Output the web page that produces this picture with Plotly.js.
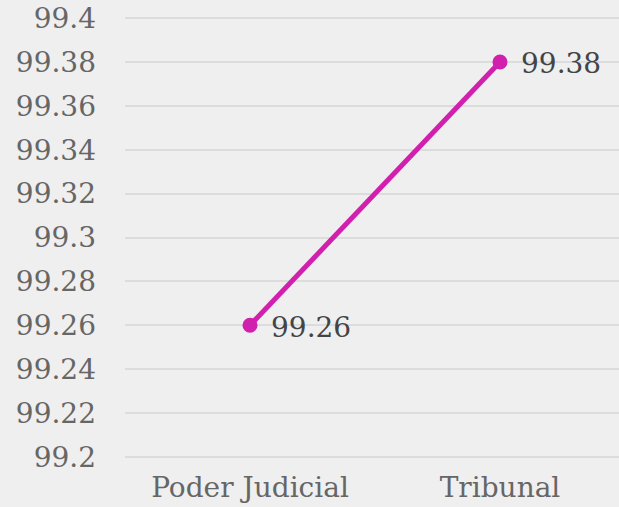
<!DOCTYPE html>
<html>
<head>
<meta charset="utf-8">
<script src="https://cdn.plot.ly/plotly-3.0.1.min.js"></script>
<style>html,body{margin:0;padding:0;background:#efefef;}#chart{width:619px;height:507px;}</style>
</head>
<body>
<div id="chart"></div>
<script>
var categories = ["Poder Judicial", "Tribunal"];
var values = [99.26, 99.38];
var tickValues = [99.2, 99.22, 99.24, 99.26, 99.28, 99.3, 99.32, 99.34, 99.36, 99.38, 99.4];
var tickLabels = ["99.2", "99.22", "99.24", "99.26", "99.28", "99.3", "99.32", "99.34", "99.36", "99.38", "99.4"];

var trace = {
  x: categories,
  y: values,
  type: "scatter",
  mode: "lines+markers",
  line: {color: "#d11fae", width: 5},
  marker: {color: "#d11fae", size: 15},
  cliponaxis: false,
  hoverinfo: "none"
};

var annotations = categories.map(function(c, i){
  return {
    x: c, y: values[i], xref: "x", yref: "y",
    text: String(values[i]),
    showarrow: false,
    xanchor: "left", yanchor: "middle",
    xshift: 19, yshift: -2,
    font: {family: "DejaVu Serif", size: 28, color: "#444"}
  };
});

var layout = {
  width: 619, height: 507,
  margin: {l: 125, r: 0, t: 17, b: 49},
  paper_bgcolor: "#efefef",
  plot_bgcolor: "#efefef",
  showlegend: false,
  font: {family: "DejaVu Serif", size: 28, color: "#666"},
  annotations: annotations,
  xaxis: {
    type: "category",
    range: [-0.5, 1.476],
    showgrid: false,
    zeroline: false,
    showline: false,
    ticks: "",
    ticklabelstandoff: 10,
    tickfont: {family: "DejaVu Serif", size: 28, color: "#666"}
  },
  yaxis: {
    range: [99.1995, 99.4005],
    tickvals: tickValues,
    ticktext: tickLabels,
    showgrid: true,
    gridcolor: "#dcdcdc",
    gridwidth: 2,
    zeroline: false,
    showline: false,
    ticks: "",
    ticklabelstandoff: 28,
    tickfont: {family: "DejaVu Serif", size: 28, color: "#666"}
  }
};

Plotly.newPlot("chart", [trace], layout, {displayModeBar: false, staticPlot: true});
</script>
</body>
</html>
